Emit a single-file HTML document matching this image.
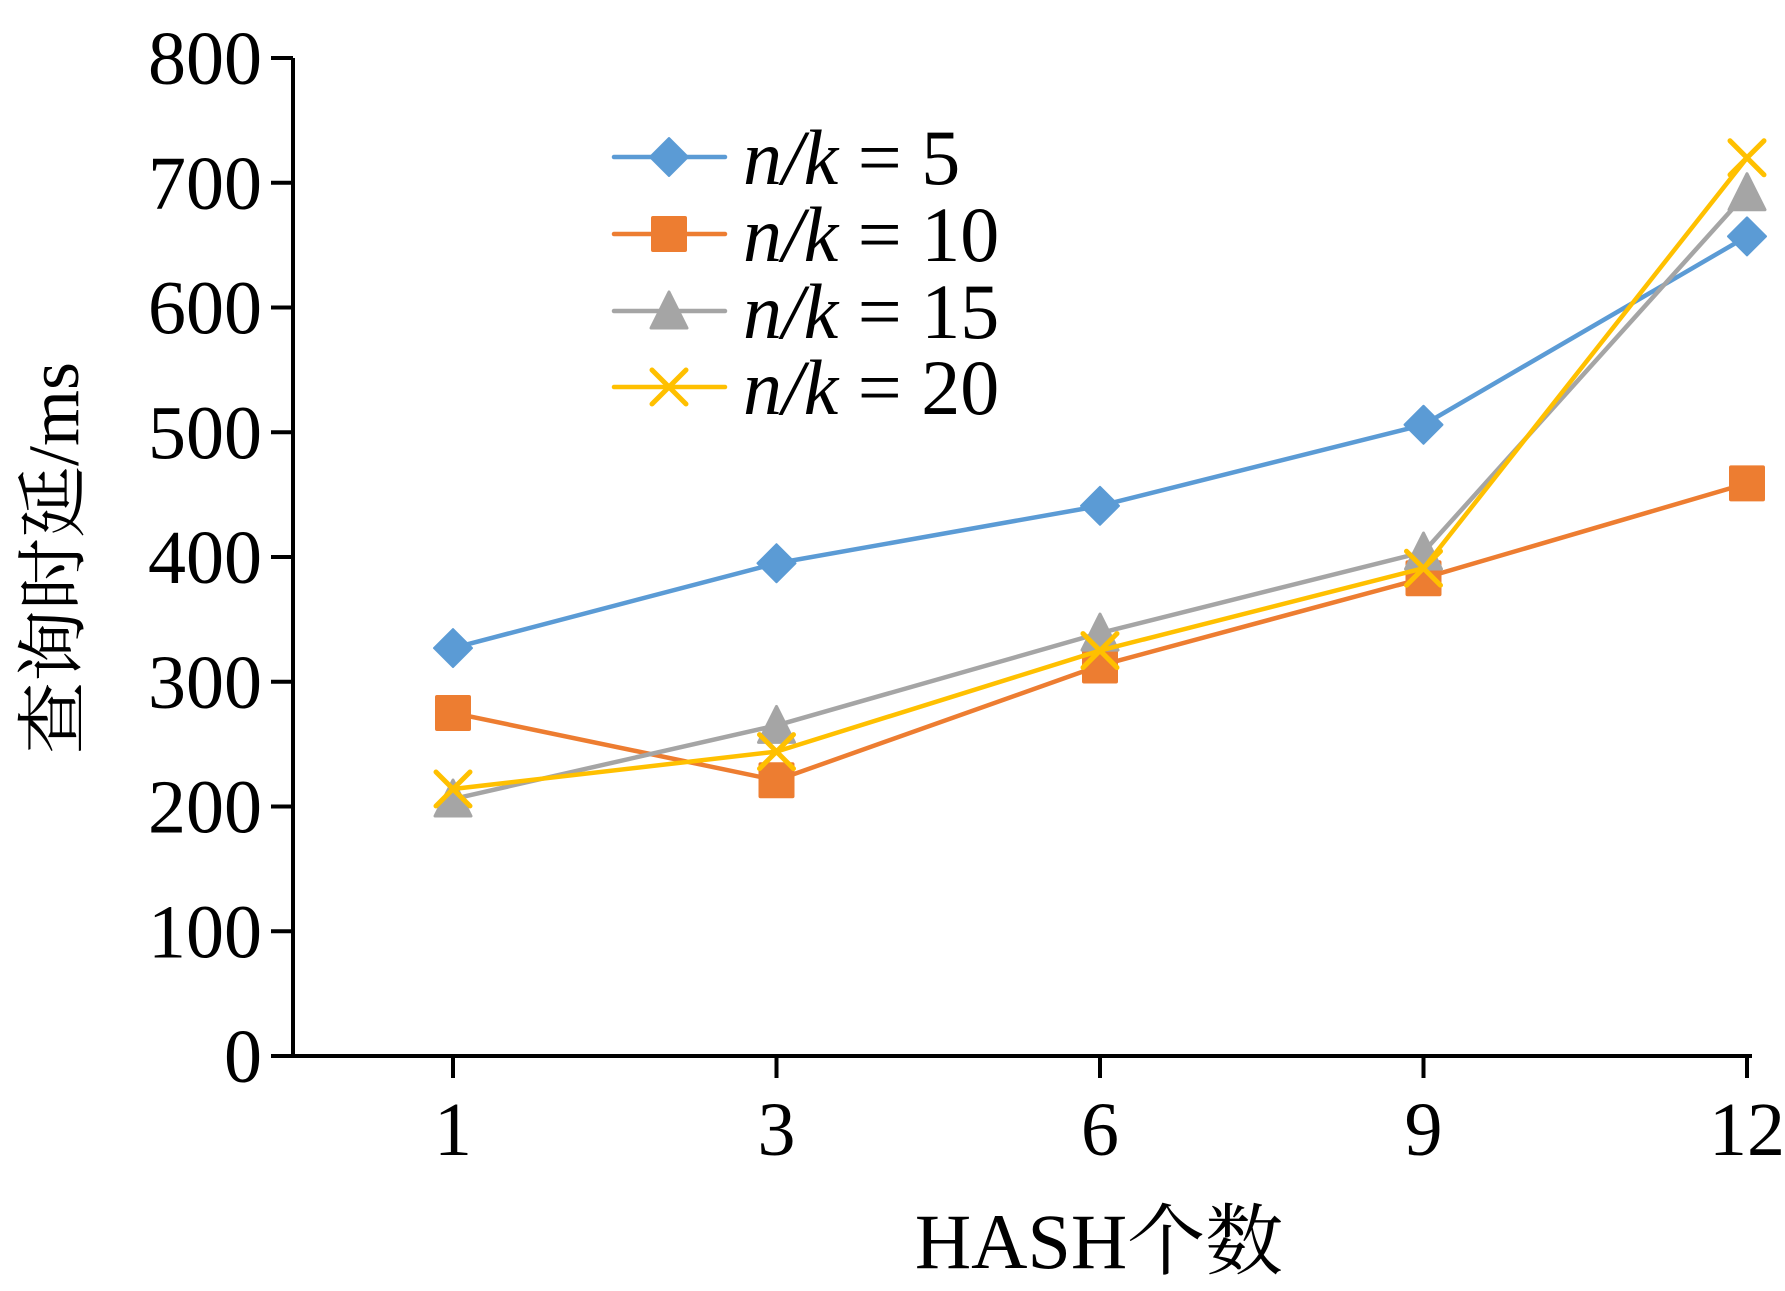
<!DOCTYPE html>
<html><head><meta charset="utf-8"><style>
html,body{margin:0;padding:0;background:#fff;}
svg{display:block;font-family:"Liberation Serif","Times New Roman","Noto Serif CJK SC",serif;}
</style></head><body>
<svg id="chart" width="1785" height="1291" viewBox="0 0 1785 1291">
<g id="axes"></g><g id="series"></g><g id="legend"></g>
<text x="1099" y="1268" font-size="78" text-anchor="middle">HASH个数</text>
<text transform="translate(78,558) rotate(-90)" font-size="72" text-anchor="middle">查询时延/ms</text>
</svg>
<script>
const categories = ["1","3","6","9","12"];
const yTicks = [0,100,200,300,400,500,600,700,800];
const seriesNames = ["n/k = 5","n/k = 10","n/k = 15","n/k = 20"];
const s5 = [327,395,441,506,657];
const s10 = [275,221,313,383,459];
const s15 = [206,265,339,404,692];
const s20 = [214,244,325,391,720];
const allSeries = [s5,s10,s15,s20];
const colors = ["#5B9BD5","#ED7D31","#A5A5A5","#FFC000"];
const markers = ["diamond","square","triangle","x"];

const NS="http://www.w3.org/2000/svg";
const X0=293, Y0=1056, Ytop=58;
const xFirst=453, xLast=1747;
function xs(i){return xFirst+i*((xLast-xFirst)/(categories.length-1));}
function ys(v){return Y0-(v/800)*(Y0-Ytop);}
function mk(tag,attrs,parent){const e=document.createElementNS(NS,tag);for(const k in attrs)e.setAttribute(k,attrs[k]);parent.appendChild(e);return e;}
const axes=document.getElementById('axes');
let ax=mk('line',{x1:X0,y1:Ytop,x2:X0,y2:Y0,stroke:'#000','stroke-width':4},axes);


let bx=mk('line',{x1:X0,y1:Y0,x2:1752,y2:Y0,stroke:'#000','stroke-width':4},axes);


yTicks.forEach(v=>{
  const y=ys(v);
  mk('line',{x1:X0-22,y1:y,x2:X0,y2:y,stroke:'#000','stroke-width':4},axes);
  const t=mk('text',{x:262,y:y+26,'font-size':76,'text-anchor':'end'},axes);
  t.textContent=v;
  
  
});
categories.forEach((c,i)=>{
  const x=xs(i);
  mk('line',{x1:x,y1:Y0,x2:x,y2:Y0+22,stroke:'#000','stroke-width':4},axes);
  const t=mk('text',{x:x,y:1155,'font-size':76,'text-anchor':'middle'},axes);
  t.textContent=c;
  
  
});
function marker(type,x,y,col,parent){
  let e;
  if(type==='diamond'){e=mk('polygon',{points:`${x},${y-19} ${x+19},${y} ${x},${y+19} ${x-19},${y}`,fill:col,'stroke':col,'stroke-width':2,'stroke-linejoin':'round'},parent);}
  else if(type==='square'){e=mk('rect',{x:x-18,y:y-18,width:36,height:36,rx:2,fill:col},parent);}
  else if(type==='triangle'){e=mk('polygon',{points:`${x},${y-19} ${x+18},${y+17} ${x-18},${y+17}`,fill:col,stroke:col,'stroke-width':3,'stroke-linejoin':'round'},parent);}
  else {e=mk('path',{d:`M${x-17},${y-17}L${x+17},${y+17}M${x+17},${y-17}L${x-17},${y+17}`,stroke:col,'stroke-width':5,'stroke-linecap':'round',fill:'none'},parent);}
  return e;
}
const sg=document.getElementById('series');
allSeries.forEach((d,si)=>{
  const g=mk('g',{},sg);
  
  
  const pts=d.map((v,i)=>xs(i)+','+ys(v)).join(' ');
  const pl=mk('polyline',{points:pts,fill:'none',stroke:colors[si],'stroke-width':4.5,'stroke-linejoin':'round'},g);
  
  
  d.forEach((v,i)=>{
    const m=marker(markers[si],xs(i),ys(v),colors[si],g);
    
    
  });
});
const lg=document.getElementById('legend');
const rows=[157,234,311,387];
seriesNames.forEach((n,si)=>{
  const g=mk('g',{},lg);
  
  
  const y=rows[si];
  mk('line',{x1:614,y1:y,x2:725,y2:y,stroke:colors[si],'stroke-width':4.5,'stroke-linecap':'round'},g);
  marker(markers[si],669,y,colors[si],g);
  const t=mk('text',{x:743,y:y+27,'font-size':78},g);
  const num=n.split('= ')[1];
  const it=mk('tspan',{'font-style':'italic'},t); it.textContent='n/k';
  const r=mk('tspan',{},t); r.textContent=' = '+num;
});
</script>
</body></html>
